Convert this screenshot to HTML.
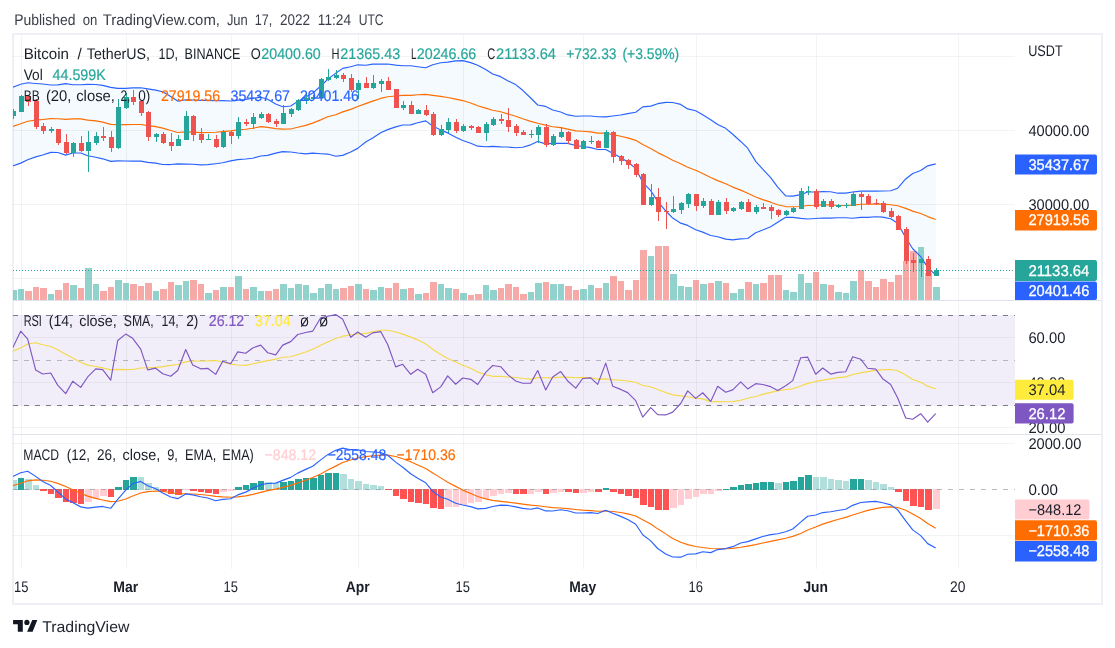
<!DOCTYPE html><html><head><meta charset="utf-8"><title>BTCUSDT</title><style>html,body{margin:0;padding:0;background:#fff}body{width:1115px;height:648px;overflow:hidden;font-family:"Liberation Sans",sans-serif}</style></head><body><svg width="1115" height="648" viewBox="0 0 1115 648" style="display:block;text-rendering:geometricPrecision">
<defs><filter id="nf" x="0" y="0" width="1115" height="648" filterUnits="userSpaceOnUse" color-interpolation-filters="sRGB"><feOffset dx="0" dy="0"/></filter><clipPath id="cp"><rect x="13" y="34" width="1002" height="534"/></clipPath><clipPath id="c1"><rect x="13" y="34" width="1002" height="266"/></clipPath><clipPath id="c2"><rect x="13" y="301" width="1002" height="133"/></clipPath><clipPath id="c3"><rect x="13" y="435" width="1002" height="133"/></clipPath></defs>
<rect width="1115" height="648" fill="#fff"/>
<rect x="13" y="34" width="1089" height="570" fill="#fff" stroke="#eef0f5" stroke-width="2" shape-rendering="crispEdges"/>
<path d="M21.5 35V569 M126.5 35V569 M231.5 35V569 M358.5 35V569 M463.5 35V569 M583.5 35V569 M696.5 35V569 M816.5 35V569 M958.5 35V569" stroke="#2a2e39" stroke-opacity="0.06" stroke-width="1" fill="none" shape-rendering="crispEdges"/>
<path d="M13 56.5H1015 M13 130.5H1015 M13 204.5H1015 M13 278.5H1015 M13 337.5H1015 M13 382.5H1015 M13 427.5H1015 M13 443.5H1015 M13 535.5H1015" stroke="#2a2e39" stroke-opacity="0.06" stroke-width="1" fill="none" shape-rendering="crispEdges"/>
<path d="M13 300.5H1101 M13 434.5H1101" stroke="#e0e3eb" stroke-width="1" shape-rendering="crispEdges"/>
<g clip-path="url(#c1)">
<path d="M12.7 87.16 L20.7 84.26 L27.7 82.73 L35.7 83.45 L42.7 84.05 L50.7 84.97 L57.7 84.92 L65.7 83.61 L72.7 84.76 L80.7 84.70 L87.7 84.40 L95.7 84.55 L102.7 85.36 L110.7 87.36 L117.7 88.44 L125.7 88.37 L132.7 87.86 L140.7 87.79 L147.7 88.94 L155.7 90.08 L162.7 91.75 L170.7 96.58 L177.7 101.08 L185.7 99.80 L192.7 100.00 L200.7 100.38 L207.7 100.37 L215.7 100.70 L222.7 100.56 L230.7 100.95 L237.7 100.15 L245.7 99.52 L252.7 98.28 L260.7 97.28 L267.7 99.29 L275.7 104.02 L282.7 106.71 L290.7 106.02 L297.7 101.38 L305.7 96.88 L312.7 93.06 L320.7 85.98 L327.7 79.41 L335.7 73.16 L342.7 68.39 L350.7 66.74 L357.7 64.81 L365.7 65.30 L372.7 64.17 L380.7 64.06 L387.7 63.97 L395.7 65.08 L402.7 65.70 L410.7 65.73 L417.7 66.72 L425.7 67.78 L432.7 64.70 L440.7 62.74 L447.7 62.08 L455.7 60.89 L462.7 60.64 L470.7 62.65 L477.7 65.26 L485.7 69.56 L492.7 74.03 L500.7 76.67 L507.7 80.80 L515.7 84.59 L522.7 90.29 L530.7 97.97 L537.7 104.98 L545.7 106.42 L552.7 110.03 L560.7 112.00 L567.7 114.93 L575.7 116.24 L582.7 115.96 L590.7 115.99 L597.7 116.71 L605.7 116.84 L612.7 116.00 L620.7 115.05 L627.7 113.61 L635.7 112.26 L642.7 106.83 L650.7 106.15 L657.7 103.67 L665.7 102.36 L672.7 102.54 L680.7 104.42 L687.7 108.92 L695.7 110.76 L702.7 114.80 L710.7 119.66 L717.7 124.44 L725.7 128.32 L732.7 134.29 L740.7 141.46 L747.7 148.18 L755.7 161.34 L762.7 169.22 L770.7 177.66 L777.7 187.21 L785.7 195.84 L792.7 196.14 L800.7 194.67 L807.7 192.01 L815.7 191.99 L822.7 191.56 L830.7 191.71 L837.7 193.19 L845.7 193.17 L852.7 191.97 L860.7 191.08 L867.7 191.15 L875.7 191.08 L882.7 190.98 L890.7 190.77 L897.7 188.17 L905.7 178.97 L912.7 173.46 L920.7 170.51 L927.7 165.84 L935.7 163.83 L935.7 275.20 L927.7 267.33 L920.7 256.57 L912.7 248.72 L905.7 237.73 L897.7 223.23 L890.7 218.75 L882.7 217.15 L875.7 216.79 L867.7 217.39 L860.7 217.38 L852.7 218.28 L845.7 217.76 L837.7 217.78 L830.7 218.17 L822.7 218.03 L815.7 218.47 L807.7 219.02 L800.7 218.36 L792.7 217.42 L785.7 217.27 L777.7 222.19 L770.7 226.67 L762.7 230.07 L755.7 232.74 L747.7 238.48 L740.7 238.81 L732.7 239.89 L725.7 239.17 L717.7 236.80 L710.7 235.46 L702.7 232.14 L695.7 229.68 L687.7 225.42 L680.7 223.17 L672.7 218.11 L665.7 210.77 L657.7 201.56 L650.7 190.65 L642.7 182.31 L635.7 168.42 L627.7 162.06 L620.7 157.51 L612.7 153.32 L605.7 149.52 L597.7 149.47 L590.7 147.66 L582.7 146.54 L575.7 145.47 L567.7 143.43 L560.7 143.28 L552.7 143.39 L545.7 143.88 L537.7 141.57 L530.7 144.83 L522.7 147.22 L515.7 147.77 L507.7 147.04 L500.7 146.87 L492.7 146.44 L485.7 146.77 L477.7 146.16 L470.7 143.26 L462.7 140.49 L455.7 137.31 L447.7 132.88 L440.7 130.11 L432.7 126.07 L425.7 120.89 L417.7 122.81 L410.7 124.91 L402.7 124.97 L395.7 126.85 L387.7 129.62 L380.7 132.78 L372.7 138.08 L365.7 141.94 L357.7 148.37 L350.7 151.98 L342.7 155.36 L335.7 156.25 L327.7 154.07 L320.7 153.71 L312.7 153.18 L305.7 153.87 L297.7 153.01 L290.7 151.96 L282.7 151.59 L275.7 153.14 L267.7 155.34 L260.7 155.95 L252.7 158.28 L245.7 159.00 L237.7 159.62 L230.7 160.89 L222.7 162.78 L215.7 163.71 L207.7 164.61 L200.7 164.92 L192.7 164.29 L185.7 164.08 L177.7 163.86 L170.7 164.55 L162.7 164.52 L155.7 163.14 L147.7 162.32 L140.7 161.19 L132.7 161.18 L125.7 160.97 L117.7 160.94 L110.7 161.37 L102.7 158.82 L95.7 157.21 L87.7 155.76 L80.7 153.05 L72.7 152.95 L65.7 155.08 L57.7 152.52 L50.7 152.41 L42.7 154.97 L35.7 156.90 L27.7 159.69 L20.7 163.14 L12.7 165.97Z" fill="#2196f3" fill-opacity="0.05" stroke="none"/>
<path d="M10 290H17V300H10Z M18 289H24V300H18Z M48 294H54V300H48Z M70 285H77V300H70Z M85 268H92V300H85Z M93 284H99V300H93Z M115 280H122V300H115Z M123 283H129V300H123Z M153 291H159V300H153Z M175 285H182V300H175Z M183 281H189V300H183Z M205 293H212V300H205Z M220 287H227V300H220Z M235 276H242V300H235Z M250 287H257V300H250Z M258 291H264V300H258Z M280 284H287V300H280Z M288 288H294V300H288Z M295 284H302V300H295Z M303 285H309V300H303Z M310 293H317V300H310Z M318 288H324V300H318Z M325 284H332V300H325Z M333 289H339V300H333Z M355 284H362V300H355Z M370 290H377V300H370Z M378 287H384V300H378Z M400 289H407V300H400Z M415 294H422V300H415Z M438 284H444V300H438Z M445 288H452V300H445Z M460 293H467V300H460Z M483 285H489V300H483Z M490 290H497V300H490Z M528 292H534V300H528Z M535 283H542V300H535Z M550 284H557V300H550Z M558 284H564V300H558Z M580 289H587V300H580Z M588 285H594V300H588Z M603 283H609V300H603Z M648 256H654V300H648Z M670 274H677V300H670Z M678 286H684V300H678Z M685 287H692V300H685Z M700 284H707V300H700Z M715 281H722V300H715Z M730 293H737V300H730Z M738 289H744V300H738Z M753 284H759V300H753Z M783 290H789V300H783Z M790 292H797V300H790Z M798 274H804V300H798Z M805 283H812V300H805Z M820 284H827V300H820Z M835 292H842V300H835Z M843 293H849V300H843Z M850 281H857V300H850Z M918 247H924V300H918Z M933 287H940V300H933Z" fill="#26a69a" fill-opacity="0.5" shape-rendering="crispEdges"/>
<path d="M25 291H32V300H25Z M33 287H39V300H33Z M40 288H47V300H40Z M55 290H62V300H55Z M63 283H69V300H63Z M78 288H84V300H78Z M100 291H107V300H100Z M108 287H114V300H108Z M130 284H137V300H130Z M138 286H144V300H138Z M145 283H152V300H145Z M160 289H167V300H160Z M168 282H174V300H168Z M190 280H197V300H190Z M198 284H204V300H198Z M213 290H219V300H213Z M228 287H234V300H228Z M243 289H249V300H243Z M265 291H272V300H265Z M273 289H279V300H273Z M340 288H347V300H340Z M348 286H354V300H348Z M363 289H369V300H363Z M385 288H392V300H385Z M393 283H399V300H393Z M408 288H414V300H408Z M423 293H429V300H423Z M430 282H437V300H430Z M453 289H459V300H453Z M468 295H474V300H468Z M475 294H482V300H475Z M498 288H504V300H498Z M505 284H512V300H505Z M513 287H519V300H513Z M520 294H527V300H520Z M543 282H549V300H543Z M565 286H572V300H565Z M573 290H579V300H573Z M595 288H602V300H595Z M610 276H617V300H610Z M618 281H624V300H618Z M625 290H632V300H625Z M633 280H639V300H633Z M640 250H647V300H640Z M655 246H662V300H655Z M663 246H669V300H663Z M693 280H699V300H693Z M708 283H714V300H708Z M723 283H729V300H723Z M745 282H752V300H745Z M760 283H767V300H760Z M768 275H774V300H768Z M775 275H782V300H775Z M813 272H819V300H813Z M828 285H834V300H828Z M858 270H864V300H858Z M865 281H872V300H865Z M873 287H879V300H873Z M880 279H887V300H880Z M888 282H894V300H888Z M895 275H902V300H895Z M903 261H909V300H903Z M910 251H917V300H910Z M925 273H932V300H925Z" fill="#ef5350" fill-opacity="0.5" shape-rendering="crispEdges"/>
<path d="M12.7 126.56 L20.7 123.70 L27.7 121.21 L35.7 120.18 L42.7 119.51 L50.7 118.69 L57.7 118.72 L65.7 119.35 L72.7 118.85 L80.7 118.87 L87.7 120.08 L95.7 120.88 L102.7 122.09 L110.7 124.36 L117.7 124.69 L125.7 124.67 L132.7 124.52 L140.7 124.49 L147.7 125.63 L155.7 126.61 L162.7 128.14 L170.7 130.56 L177.7 132.47 L185.7 131.94 L192.7 132.15 L200.7 132.65 L207.7 132.49 L215.7 132.21 L222.7 131.67 L230.7 130.92 L237.7 129.89 L245.7 129.26 L252.7 128.28 L260.7 126.61 L267.7 127.32 L275.7 128.58 L282.7 129.15 L290.7 128.99 L297.7 127.20 L305.7 125.38 L312.7 123.12 L320.7 119.85 L327.7 116.74 L335.7 114.70 L342.7 111.87 L350.7 109.36 L357.7 106.59 L365.7 103.62 L372.7 101.12 L380.7 98.42 L387.7 96.80 L395.7 95.96 L402.7 95.34 L410.7 95.32 L417.7 94.77 L425.7 94.34 L432.7 95.39 L440.7 96.43 L447.7 97.48 L455.7 99.10 L462.7 100.57 L470.7 102.95 L477.7 105.71 L485.7 108.17 L492.7 110.23 L500.7 111.77 L507.7 113.92 L515.7 116.18 L522.7 118.76 L530.7 121.40 L537.7 123.28 L545.7 125.15 L552.7 126.71 L560.7 127.64 L567.7 129.18 L575.7 130.85 L582.7 131.25 L590.7 131.82 L597.7 133.09 L605.7 133.18 L612.7 134.66 L620.7 136.28 L627.7 137.84 L635.7 140.34 L642.7 144.57 L650.7 148.40 L657.7 152.61 L665.7 156.57 L672.7 160.33 L680.7 163.80 L687.7 167.17 L695.7 170.22 L702.7 173.47 L710.7 177.56 L717.7 180.62 L725.7 183.74 L732.7 187.09 L740.7 190.13 L747.7 193.33 L755.7 197.04 L762.7 199.64 L770.7 202.17 L777.7 204.70 L785.7 206.56 L792.7 206.78 L800.7 206.51 L807.7 205.52 L815.7 205.23 L822.7 204.80 L830.7 204.94 L837.7 205.48 L845.7 205.47 L852.7 205.12 L860.7 204.23 L867.7 204.27 L875.7 203.93 L882.7 204.07 L890.7 204.76 L897.7 205.70 L905.7 208.35 L912.7 211.09 L920.7 213.54 L927.7 216.59 L935.7 219.51" fill="none" stroke="#ff6d00" stroke-width="1.15" stroke-linejoin="round"/>
<path d="M12.7 87.16 L20.7 84.26 L27.7 82.73 L35.7 83.45 L42.7 84.05 L50.7 84.97 L57.7 84.92 L65.7 83.61 L72.7 84.76 L80.7 84.70 L87.7 84.40 L95.7 84.55 L102.7 85.36 L110.7 87.36 L117.7 88.44 L125.7 88.37 L132.7 87.86 L140.7 87.79 L147.7 88.94 L155.7 90.08 L162.7 91.75 L170.7 96.58 L177.7 101.08 L185.7 99.80 L192.7 100.00 L200.7 100.38 L207.7 100.37 L215.7 100.70 L222.7 100.56 L230.7 100.95 L237.7 100.15 L245.7 99.52 L252.7 98.28 L260.7 97.28 L267.7 99.29 L275.7 104.02 L282.7 106.71 L290.7 106.02 L297.7 101.38 L305.7 96.88 L312.7 93.06 L320.7 85.98 L327.7 79.41 L335.7 73.16 L342.7 68.39 L350.7 66.74 L357.7 64.81 L365.7 65.30 L372.7 64.17 L380.7 64.06 L387.7 63.97 L395.7 65.08 L402.7 65.70 L410.7 65.73 L417.7 66.72 L425.7 67.78 L432.7 64.70 L440.7 62.74 L447.7 62.08 L455.7 60.89 L462.7 60.64 L470.7 62.65 L477.7 65.26 L485.7 69.56 L492.7 74.03 L500.7 76.67 L507.7 80.80 L515.7 84.59 L522.7 90.29 L530.7 97.97 L537.7 104.98 L545.7 106.42 L552.7 110.03 L560.7 112.00 L567.7 114.93 L575.7 116.24 L582.7 115.96 L590.7 115.99 L597.7 116.71 L605.7 116.84 L612.7 116.00 L620.7 115.05 L627.7 113.61 L635.7 112.26 L642.7 106.83 L650.7 106.15 L657.7 103.67 L665.7 102.36 L672.7 102.54 L680.7 104.42 L687.7 108.92 L695.7 110.76 L702.7 114.80 L710.7 119.66 L717.7 124.44 L725.7 128.32 L732.7 134.29 L740.7 141.46 L747.7 148.18 L755.7 161.34 L762.7 169.22 L770.7 177.66 L777.7 187.21 L785.7 195.84 L792.7 196.14 L800.7 194.67 L807.7 192.01 L815.7 191.99 L822.7 191.56 L830.7 191.71 L837.7 193.19 L845.7 193.17 L852.7 191.97 L860.7 191.08 L867.7 191.15 L875.7 191.08 L882.7 190.98 L890.7 190.77 L897.7 188.17 L905.7 178.97 L912.7 173.46 L920.7 170.51 L927.7 165.84 L935.7 163.83" fill="none" stroke="#2962ff" stroke-width="1.15" stroke-linejoin="round"/>
<path d="M12.7 165.97 L20.7 163.14 L27.7 159.69 L35.7 156.90 L42.7 154.97 L50.7 152.41 L57.7 152.52 L65.7 155.08 L72.7 152.95 L80.7 153.05 L87.7 155.76 L95.7 157.21 L102.7 158.82 L110.7 161.37 L117.7 160.94 L125.7 160.97 L132.7 161.18 L140.7 161.19 L147.7 162.32 L155.7 163.14 L162.7 164.52 L170.7 164.55 L177.7 163.86 L185.7 164.08 L192.7 164.29 L200.7 164.92 L207.7 164.61 L215.7 163.71 L222.7 162.78 L230.7 160.89 L237.7 159.62 L245.7 159.00 L252.7 158.28 L260.7 155.95 L267.7 155.34 L275.7 153.14 L282.7 151.59 L290.7 151.96 L297.7 153.01 L305.7 153.87 L312.7 153.18 L320.7 153.71 L327.7 154.07 L335.7 156.25 L342.7 155.36 L350.7 151.98 L357.7 148.37 L365.7 141.94 L372.7 138.08 L380.7 132.78 L387.7 129.62 L395.7 126.85 L402.7 124.97 L410.7 124.91 L417.7 122.81 L425.7 120.89 L432.7 126.07 L440.7 130.11 L447.7 132.88 L455.7 137.31 L462.7 140.49 L470.7 143.26 L477.7 146.16 L485.7 146.77 L492.7 146.44 L500.7 146.87 L507.7 147.04 L515.7 147.77 L522.7 147.22 L530.7 144.83 L537.7 141.57 L545.7 143.88 L552.7 143.39 L560.7 143.28 L567.7 143.43 L575.7 145.47 L582.7 146.54 L590.7 147.66 L597.7 149.47 L605.7 149.52 L612.7 153.32 L620.7 157.51 L627.7 162.06 L635.7 168.42 L642.7 182.31 L650.7 190.65 L657.7 201.56 L665.7 210.77 L672.7 218.11 L680.7 223.17 L687.7 225.42 L695.7 229.68 L702.7 232.14 L710.7 235.46 L717.7 236.80 L725.7 239.17 L732.7 239.89 L740.7 238.81 L747.7 238.48 L755.7 232.74 L762.7 230.07 L770.7 226.67 L777.7 222.19 L785.7 217.27 L792.7 217.42 L800.7 218.36 L807.7 219.02 L815.7 218.47 L822.7 218.03 L830.7 218.17 L837.7 217.78 L845.7 217.76 L852.7 218.28 L860.7 217.38 L867.7 217.39 L875.7 216.79 L882.7 217.15 L890.7 218.75 L897.7 223.23 L905.7 237.73 L912.7 248.72 L920.7 256.57 L927.7 267.33 L935.7 275.20" fill="none" stroke="#2962ff" stroke-width="1.15" stroke-linejoin="round"/>
<path d="M13 109h1V119h-1Z M11 111h5V116h-5Z M21 95h1V112h-1Z M19 96h5V112h-5Z M51 127h1V133h-1Z M49 129h5V131h-5Z M73 142h1V157h-1Z M71 143h5V153h-5Z M88 131h1V172h-1Z M86 142h5V151h-5Z M96 132h1V145h-1Z M94 136h5V143h-5Z M118 99h1V149h-1Z M116 107h5V148h-5Z M126 93h1V109h-1Z M124 97h5V108h-5Z M156 133h1V142h-1Z M154 134h5V137h-5Z M178 135h1V146h-1Z M176 139h5V146h-5Z M186 111h1V140h-1Z M184 116h5V140h-5Z M208 134h1V140h-1Z M206 139h5V140h-5Z M223 130h1V148h-1Z M221 132h5V147h-5Z M238 117h1V139h-1Z M236 122h5V136h-5Z M253 113h1V129h-1Z M251 117h5V124h-5Z M261 112h1V119h-1Z M259 114h5V118h-5Z M283 105h1V124h-1Z M281 113h5V124h-5Z M291 108h1V117h-1Z M289 109h5V114h-5Z M298 99h1V111h-1Z M296 100h5V110h-5Z M306 92h1V104h-1Z M304 98h5V101h-5Z M313 95h1V100h-1Z M311 97h5V99h-5Z M321 78h1V98h-1Z M319 79h5V98h-5Z M328 69h1V81h-1Z M326 77h5V80h-5Z M336 70h1V79h-1Z M334 75h5V78h-5Z M358 80h1V99h-1Z M356 83h5V90h-5Z M373 75h1V89h-1Z M371 83h5V88h-5Z M381 79h1V92h-1Z M379 81h5V84h-5Z M403 101h1V110h-1Z M401 105h5V108h-5Z M418 109h1V114h-1Z M416 110h5V114h-5Z M441 125h1V136h-1Z M439 129h5V135h-5Z M448 118h1V133h-1Z M446 122h5V130h-5Z M463 124h1V132h-1Z M461 126h5V131h-5Z M486 122h1V141h-1Z M484 124h5V133h-5Z M493 117h1V126h-1Z M491 119h5V125h-5Z M531 130h1V138h-1Z M529 134h5V135h-5Z M538 125h1V143h-1Z M536 127h5V135h-5Z M553 134h1V146h-1Z M551 136h5V145h-5Z M561 127h1V138h-1Z M559 132h5V137h-5Z M583 140h1V149h-1Z M581 141h5V149h-5Z M591 136h1V144h-1Z M589 141h5V142h-5Z M606 130h1V148h-1Z M604 132h5V148h-5Z M651 184h1V206h-1Z M649 197h5V205h-5Z M673 196h1V213h-1Z M671 209h5V212h-5Z M681 202h1V214h-1Z M679 203h5V210h-5Z M688 193h1V208h-1Z M686 194h5V204h-5Z M703 198h1V208h-1Z M701 201h5V206h-5Z M718 200h1V215h-1Z M716 202h5V215h-5Z M733 207h1V212h-1Z M731 208h5V211h-5Z M741 201h1V210h-1Z M739 202h5V209h-5Z M756 205h1V214h-1Z M754 207h5V212h-5Z M786 210h1V216h-1Z M784 211h5V215h-5Z M793 207h1V213h-1Z M791 208h5V212h-5Z M801 188h1V209h-1Z M799 191h5V209h-5Z M808 186h1V195h-1Z M806 191h5V192h-5Z M823 199h1V207h-1Z M821 201h5V207h-5Z M838 204h1V208h-1Z M836 205h5V207h-5Z M846 203h1V208h-1Z M844 205h5V206h-5Z M853 191h1V206h-1Z M851 194h5V206h-5Z M921 257h1V277h-1Z M919 259h5V263h-5Z M936 268h1V276h-1Z M934 270h5V276h-5Z" fill="#26a69a" shape-rendering="crispEdges"/>
<path d="M28 96h1V106h-1Z M26 96h5V102h-5Z M36 99h1V129h-1Z M34 101h5V127h-5Z M43 123h1V134h-1Z M41 126h5V131h-5Z M58 129h1V145h-1Z M56 129h5V143h-5Z M66 134h1V154h-1Z M64 142h5V153h-5Z M81 136h1V152h-1Z M79 143h5V151h-5Z M103 127h1V141h-1Z M101 136h5V138h-5Z M111 131h1V152h-1Z M109 137h5V148h-5Z M133 90h1V105h-1Z M131 97h5V102h-5Z M141 100h1V116h-1Z M139 101h5V113h-5Z M148 111h1V141h-1Z M146 112h5V137h-5Z M163 132h1V144h-1Z M161 134h5V143h-5Z M171 133h1V151h-1Z M169 142h5V146h-5Z M193 115h1V141h-1Z M191 116h5V135h-5Z M201 128h1V143h-1Z M199 134h5V140h-5Z M216 135h1V148h-1Z M214 139h5V147h-5Z M231 131h1V144h-1Z M229 132h5V136h-5Z M246 119h1V126h-1Z M244 122h5V124h-5Z M268 113h1V123h-1Z M266 114h5V122h-5Z M276 119h1V127h-1Z M274 121h5V124h-5Z M343 73h1V82h-1Z M341 75h5V79h-5Z M351 74h1V92h-1Z M349 78h5V90h-5Z M366 77h1V88h-1Z M364 83h5V88h-5Z M388 77h1V90h-1Z M386 81h5V90h-5Z M396 89h1V108h-1Z M394 89h5V108h-5Z M411 101h1V114h-1Z M409 105h5V114h-5Z M426 105h1V116h-1Z M424 110h5V115h-5Z M433 112h1V136h-1Z M431 114h5V135h-5Z M456 119h1V133h-1Z M454 122h5V131h-5Z M471 125h1V130h-1Z M469 126h5V128h-5Z M478 126h1V133h-1Z M476 127h5V133h-5Z M501 114h1V124h-1Z M499 119h5V121h-5Z M508 108h1V132h-1Z M506 120h5V127h-5Z M516 124h1V136h-1Z M514 126h5V133h-5Z M523 130h1V135h-1Z M521 132h5V135h-5Z M546 124h1V147h-1Z M544 127h5V145h-5Z M568 131h1V144h-1Z M566 132h5V141h-5Z M576 139h1V149h-1Z M574 140h5V149h-5Z M598 140h1V148h-1Z M596 141h5V148h-5Z M613 131h1V163h-1Z M611 132h5V157h-5Z M621 155h1V165h-1Z M619 156h5V161h-5Z M628 159h1V169h-1Z M626 160h5V165h-5Z M636 163h1V177h-1Z M634 164h5V175h-5Z M643 173h1V205h-1Z M641 174h5V205h-5Z M658 188h1V221h-1Z M656 197h5V212h-5Z M666 202h1V229h-1Z M664 211h5V212h-5Z M696 194h1V211h-1Z M694 194h5V206h-5Z M711 199h1V215h-1Z M709 201h5V215h-5Z M726 198h1V214h-1Z M724 202h5V211h-5Z M748 199h1V212h-1Z M746 202h5V212h-5Z M763 203h1V209h-1Z M761 207h5V209h-5Z M771 205h1V219h-1Z M769 207h5V211h-5Z M778 209h1V217h-1Z M776 210h5V215h-5Z M816 189h1V209h-1Z M814 191h5V207h-5Z M831 199h1V209h-1Z M829 201h5V207h-5Z M861 192h1V210h-1Z M859 194h5V197h-5Z M868 194h1V205h-1Z M866 196h5V204h-5Z M876 199h1V205h-1Z M874 203h5V204h-5Z M883 201h1V213h-1Z M881 203h5V212h-5Z M891 208h1V218h-1Z M889 211h5V217h-5Z M898 215h1V230h-1Z M896 216h5V230h-5Z M906 227h1V264h-1Z M904 229h5V261h-5Z M913 253h1V272h-1Z M911 260h5V263h-5Z M928 256h1V276h-1Z M926 259h5V276h-5Z" fill="#ef5350" shape-rendering="crispEdges"/>
<path d="M13 270.5H1015" stroke="#26a69a" stroke-width="1" stroke-dasharray="1 2" shape-rendering="crispEdges"/>
</g>
<g clip-path="url(#c2)">
<rect x="13" y="315" width="1002" height="91" fill="#7e57c2" fill-opacity="0.1"/>
<path d="M13 315.5H1015 M13 405.5H1015" stroke="#787b86" stroke-width="1" stroke-dasharray="5 6" shape-rendering="crispEdges"/>
<path d="M13 360.5H1015" stroke="#787b86" stroke-opacity="0.5" stroke-width="1" stroke-dasharray="5 6" shape-rendering="crispEdges"/>
<path d="M12.7 351.35 L20.7 347.94 L27.7 344.01 L35.7 342.70 L42.7 344.72 L50.7 346.53 L57.7 349.74 L65.7 354.26 L72.7 357.98 L80.7 362.30 L87.7 365.14 L95.7 366.55 L102.7 367.91 L110.7 369.88 L117.7 369.36 L125.7 369.57 L132.7 369.51 L140.7 368.01 L147.7 367.71 L155.7 367.37 L162.7 366.56 L170.7 365.32 L177.7 364.55 L185.7 361.85 L192.7 360.99 L200.7 360.99 L207.7 360.90 L215.7 360.48 L222.7 361.96 L230.7 364.08 L237.7 365.05 L245.7 365.35 L252.7 363.78 L260.7 362.13 L267.7 360.63 L275.7 359.10 L282.7 357.29 L290.7 356.72 L297.7 354.54 L305.7 351.94 L312.7 349.29 L320.7 345.25 L327.7 342.03 L335.7 338.52 L342.7 336.18 L350.7 335.04 L357.7 333.90 L365.7 333.34 L372.7 331.92 L380.7 330.26 L387.7 330.22 L395.7 332.02 L402.7 334.15 L410.7 337.14 L417.7 339.86 L425.7 343.89 L432.7 349.35 L440.7 354.52 L447.7 358.56 L455.7 361.91 L462.7 365.20 L470.7 368.21 L477.7 371.90 L485.7 374.82 L492.7 376.31 L500.7 376.30 L507.7 377.03 L515.7 377.51 L522.7 378.52 L530.7 379.15 L537.7 377.57 L545.7 377.79 L552.7 377.88 L560.7 376.97 L567.7 377.18 L575.7 377.80 L582.7 377.37 L590.7 377.76 L597.7 379.12 L605.7 378.86 L612.7 379.69 L620.7 380.29 L627.7 380.96 L635.7 382.21 L642.7 385.53 L650.7 386.79 L657.7 389.48 L665.7 392.58 L672.7 394.81 L680.7 395.91 L687.7 396.80 L695.7 398.26 L702.7 398.86 L710.7 401.60 L717.7 401.60 L725.7 401.80 L732.7 401.61 L740.7 400.27 L747.7 398.26 L755.7 396.54 L762.7 394.38 L770.7 392.36 L777.7 390.82 L785.7 389.55 L792.7 388.82 L800.7 385.92 L807.7 383.38 L815.7 381.44 L822.7 380.13 L830.7 378.84 L837.7 377.59 L845.7 376.86 L852.7 374.56 L860.7 372.82 L867.7 371.66 L875.7 370.41 L882.7 369.57 L890.7 369.47 L897.7 370.71 L905.7 375.00 L912.7 379.44 L920.7 382.26 L927.7 386.13 L935.7 388.95" fill="none" stroke="#f5d949" stroke-width="1.15" stroke-linejoin="round"/>
<path d="M12.7 347.85 L20.7 331.24 L27.7 339.15 L35.7 370.07 L42.7 374.02 L50.7 373.01 L57.7 385.16 L65.7 393.60 L72.7 381.21 L80.7 387.42 L87.7 376.96 L95.7 368.87 L102.7 369.66 L110.7 380.18 L117.7 340.54 L125.7 334.10 L132.7 338.29 L140.7 349.19 L147.7 369.83 L155.7 368.18 L162.7 373.77 L170.7 376.22 L177.7 370.55 L185.7 349.55 L192.7 364.99 L200.7 368.85 L207.7 368.32 L215.7 374.36 L222.7 361.26 L230.7 363.74 L237.7 351.90 L245.7 353.30 L252.7 347.93 L260.7 345.10 L267.7 352.74 L275.7 354.84 L282.7 345.14 L290.7 341.65 L297.7 334.48 L305.7 332.46 L312.7 331.17 L320.7 317.74 L327.7 316.23 L335.7 314.58 L342.7 319.21 L350.7 337.33 L357.7 331.97 L365.7 337.26 L372.7 332.87 L380.7 331.59 L387.7 344.51 L395.7 366.91 L402.7 364.31 L410.7 374.29 L417.7 369.19 L425.7 374.23 L432.7 392.72 L440.7 386.85 L447.7 375.84 L455.7 384.24 L462.7 378.04 L470.7 379.33 L477.7 384.55 L485.7 372.41 L492.7 365.47 L500.7 366.70 L507.7 374.58 L515.7 381.03 L522.7 383.23 L530.7 383.11 L537.7 370.58 L545.7 389.97 L552.7 377.04 L560.7 371.57 L567.7 380.95 L575.7 388.07 L582.7 378.52 L590.7 377.87 L597.7 384.42 L605.7 363.12 L612.7 386.16 L620.7 389.40 L627.7 392.63 L635.7 400.62 L642.7 417.09 L650.7 407.66 L657.7 414.67 L665.7 414.93 L672.7 412.15 L680.7 403.51 L687.7 390.90 L695.7 398.42 L702.7 392.75 L710.7 401.43 L717.7 386.28 L725.7 392.19 L732.7 389.89 L740.7 381.88 L747.7 388.92 L755.7 383.65 L762.7 384.45 L770.7 386.66 L777.7 390.51 L785.7 385.80 L792.7 380.66 L800.7 357.78 L807.7 357.18 L815.7 374.27 L822.7 368.01 L830.7 374.07 L837.7 372.37 L845.7 371.76 L852.7 356.69 L860.7 359.21 L867.7 368.26 L875.7 369.18 L882.7 378.69 L890.7 384.42 L897.7 397.99 L905.7 417.96 L912.7 419.28 L920.7 413.74 L927.7 422.21 L935.7 413.52" fill="none" stroke="#7e57c2" stroke-width="1.15" stroke-linejoin="round"/>
</g>
<g clip-path="url(#c3)">
<path d="M18 478H24V490H18Z M115 487H122V490H115Z M123 480H129V490H123Z M130 477H137V490H130Z M235 487H242V490H235Z M243 485H249V490H243Z M250 483H257V490H250Z M258 481H264V490H258Z M280 482H287V490H280Z M288 481H294V490H288Z M295 479H302V490H295Z M303 478H309V490H303Z M310 478H317V490H310Z M318 475H324V490H318Z M325 473H332V490H325Z M333 473H339V490H333Z M603 488H609V490H603Z M723 489H729V490H723Z M730 487H737V490H730Z M738 485H744V490H738Z M745 484H752V490H745Z M753 483H759V490H753Z M760 482H767V490H760Z M768 482H774V490H768Z M783 482H789V490H783Z M790 481H797V490H790Z M798 477H804V490H798Z M805 475H812V490H805Z M850 479H857V490H850Z M858 479H864V490H858Z" fill="#26a69a" shape-rendering="crispEdges"/>
<path d="M10 480H17V490H10Z M25 479H32V490H25Z M33 485H39V490H33Z M138 477H144V490H138Z M145 483H152V490H145Z M153 487H159V490H153Z M265 482H272V490H265Z M273 483H279V490H273Z M340 474H347V490H340Z M348 479H354V490H348Z M355 481H362V490H355Z M363 484H369V490H363Z M370 485H377V490H370Z M378 486H384V490H378Z M775 483H782V490H775Z M813 477H819V490H813Z M820 477H827V490H820Z M828 479H834V490H828Z M835 480H842V490H835Z M843 481H849V490H843Z M865 480H872V490H865Z M873 482H879V490H873Z M880 484H887V490H880Z M888 487H894V490H888Z" fill="#b2dfdb" shape-rendering="crispEdges"/>
<path d="M85 489H92V502H85Z M93 489H99V499H93Z M100 489H107V496H100Z M183 489H189V490H183Z M220 489H227V492H220Z M228 489H234V491H228Z M445 489H452V507H445Z M453 489H459V507H453Z M460 489H467V505H460Z M468 489H474V503H468Z M475 489H482V502H475Z M483 489H489V499H483Z M490 489H497V496H490Z M498 489H504V494H498Z M505 489H512V493H505Z M528 489H534V494H528Z M535 489H542V492H535Z M550 489H557V493H550Z M558 489H564V492H558Z M580 489H587V493H580Z M588 489H594V492H588Z M670 489H677V508H670Z M678 489H684V505H678Z M685 489H692V499H685Z M693 489H699V497H693Z M700 489H707V494H700Z M708 489H714V494H708Z M715 489H722V491H715Z M933 489H940V509H933Z" fill="#ffcdd2" shape-rendering="crispEdges"/>
<path d="M40 489H47V491H40Z M48 489H54V494H48Z M55 489H62V498H55Z M63 489H69V502H63Z M70 489H77V503H70Z M78 489H84V504H78Z M108 489H114V497H108Z M160 489H167V491H160Z M168 489H174V494H168Z M175 489H182V495H175Z M190 489H197V491H190Z M198 489H204V492H198Z M205 489H212V493H205Z M213 489H219V494H213Z M385 489H392V490H385Z M393 489H399V496H393Z M400 489H407V499H400Z M408 489H414V502H408Z M415 489H422V503H415Z M423 489H429V504H423Z M430 489H437V508H430Z M438 489H444V509H438Z M513 489H519V494H513Z M520 489H527V494H520Z M543 489H549V494H543Z M565 489H572V492H565Z M573 489H579V493H573Z M595 489H602V492H595Z M610 489H617V492H610Z M618 489H624V494H618Z M625 489H632V496H625Z M633 489H639V498H633Z M640 489H647V505H640Z M648 489H654V507H648Z M655 489H662V510H655Z M663 489H669V510H663Z M895 489H902V492H895Z M903 489H909V501H903Z M910 489H917V506H910Z M918 489H924V507H918Z M925 489H932V510H925Z" fill="#ff5252" shape-rendering="crispEdges"/>
<path d="M13 489.5H1015" stroke="#787b86" stroke-opacity="0.5" stroke-width="1" stroke-dasharray="5 6" shape-rendering="crispEdges"/>
<path d="M12.7 485.82 L20.7 483.22 L27.7 480.82 L35.7 479.93 L42.7 480.25 L50.7 481.30 L57.7 483.39 L65.7 486.53 L72.7 489.74 L80.7 493.17 L87.7 496.15 L95.7 498.36 L102.7 499.97 L110.7 501.63 L117.7 501.20 L125.7 498.97 L132.7 495.92 L140.7 493.02 L147.7 491.57 L155.7 491.02 L162.7 491.40 L170.7 492.51 L177.7 493.74 L185.7 493.77 L192.7 493.98 L200.7 494.53 L207.7 495.22 L215.7 496.33 L222.7 496.93 L230.7 497.30 L237.7 496.82 L245.7 495.88 L252.7 494.38 L260.7 492.43 L267.7 490.64 L275.7 489.13 L282.7 487.38 L290.7 485.38 L297.7 482.93 L305.7 480.22 L312.7 477.44 L320.7 473.93 L327.7 470.07 L335.7 466.13 L342.7 462.53 L350.7 459.96 L357.7 457.96 L365.7 456.66 L372.7 455.72 L380.7 455.07 L387.7 455.11 L395.7 456.52 L402.7 458.68 L410.7 461.71 L417.7 465.00 L425.7 468.55 L432.7 473.10 L440.7 477.87 L447.7 482.16 L455.7 486.38 L462.7 490.11 L470.7 493.41 L477.7 496.51 L485.7 498.90 L492.7 500.43 L500.7 501.36 L507.7 502.18 L515.7 503.12 L522.7 504.17 L530.7 505.18 L537.7 505.73 L545.7 506.77 L552.7 507.61 L560.7 508.04 L567.7 508.59 L575.7 509.48 L582.7 510.18 L590.7 510.67 L597.7 511.24 L605.7 511.05 L612.7 511.50 L620.7 512.48 L627.7 513.88 L635.7 515.95 L642.7 519.72 L650.7 523.94 L657.7 528.86 L665.7 533.88 L672.7 538.51 L680.7 542.24 L687.7 544.64 L695.7 546.48 L702.7 547.54 L710.7 548.55 L717.7 548.75 L725.7 548.72 L732.7 548.31 L740.7 547.23 L747.7 546.10 L755.7 544.67 L762.7 543.03 L770.7 541.36 L777.7 539.83 L785.7 538.22 L792.7 536.37 L800.7 533.52 L807.7 530.06 L815.7 527.05 L822.7 524.15 L830.7 521.67 L837.7 519.45 L845.7 517.41 L852.7 515.00 L860.7 512.51 L867.7 510.39 L875.7 508.59 L882.7 507.43 L890.7 506.92 L897.7 507.49 L905.7 510.18 L912.7 514.12 L920.7 518.42 L927.7 523.46 L935.7 528.36" fill="none" stroke="#ff6d00" stroke-width="1.15" stroke-linejoin="round"/>
<path d="M12.7 476.63 L20.7 472.81 L27.7 471.23 L35.7 476.38 L42.7 481.55 L50.7 485.49 L57.7 491.73 L65.7 499.12 L72.7 502.55 L80.7 506.88 L87.7 508.09 L95.7 507.18 L102.7 506.44 L110.7 508.28 L117.7 499.44 L125.7 490.08 L132.7 483.70 L140.7 481.41 L147.7 485.79 L155.7 488.79 L162.7 492.95 L170.7 496.95 L177.7 498.63 L185.7 493.93 L192.7 494.82 L200.7 496.73 L207.7 497.99 L215.7 500.77 L222.7 499.33 L230.7 498.80 L237.7 494.89 L245.7 492.13 L252.7 488.38 L260.7 484.63 L267.7 483.48 L275.7 483.11 L282.7 480.38 L290.7 477.38 L297.7 473.13 L305.7 469.38 L312.7 466.30 L320.7 459.89 L327.7 454.65 L335.7 450.36 L342.7 448.12 L350.7 449.69 L357.7 449.94 L365.7 451.45 L372.7 451.97 L380.7 452.47 L387.7 455.28 L395.7 462.14 L402.7 467.32 L410.7 473.82 L417.7 478.16 L425.7 482.77 L432.7 491.30 L440.7 496.95 L447.7 499.31 L455.7 503.25 L462.7 505.06 L470.7 506.61 L477.7 508.92 L485.7 508.42 L492.7 506.54 L500.7 505.12 L507.7 505.43 L515.7 506.91 L522.7 508.35 L530.7 509.25 L537.7 507.92 L545.7 510.92 L552.7 510.95 L560.7 509.79 L567.7 510.76 L575.7 513.04 L582.7 513.01 L590.7 512.61 L597.7 513.49 L605.7 510.29 L612.7 513.32 L620.7 516.40 L627.7 519.50 L635.7 524.22 L642.7 534.80 L650.7 540.84 L657.7 548.50 L665.7 553.96 L672.7 557.02 L680.7 557.17 L687.7 554.23 L695.7 553.85 L702.7 551.77 L710.7 552.60 L717.7 549.57 L725.7 548.57 L732.7 546.66 L740.7 542.94 L747.7 541.58 L755.7 538.92 L762.7 536.49 L770.7 534.66 L777.7 533.75 L785.7 531.78 L792.7 528.95 L800.7 522.11 L807.7 516.24 L815.7 515.01 L822.7 512.56 L830.7 511.75 L837.7 510.55 L845.7 509.27 L852.7 505.35 L860.7 502.55 L867.7 501.90 L875.7 501.42 L882.7 502.77 L890.7 504.90 L897.7 509.79 L905.7 520.90 L912.7 529.89 L920.7 535.64 L927.7 543.63 L935.7 547.92" fill="none" stroke="#2962ff" stroke-width="1.15" stroke-linejoin="round"/>
</g>
<g filter="url(#nf)">
<text x="14.2" y="25" font-family="Liberation Sans, sans-serif" font-size="15.4" fill="#3a3e4a" textLength="61.2" lengthAdjust="spacingAndGlyphs">Published</text>
<text x="82.8" y="25" font-family="Liberation Sans, sans-serif" font-size="15.4" fill="#3a3e4a" textLength="14.6" lengthAdjust="spacingAndGlyphs">on</text>
<text x="102.7" y="25" font-family="Liberation Sans, sans-serif" font-size="15.4" fill="#3a3e4a" textLength="117.2" lengthAdjust="spacingAndGlyphs">TradingView.com,</text>
<text x="226.9" y="25" font-family="Liberation Sans, sans-serif" font-size="15.4" fill="#3a3e4a" textLength="20.9" lengthAdjust="spacingAndGlyphs">Jun</text>
<text x="254.8" y="25" font-family="Liberation Sans, sans-serif" font-size="15.4" fill="#3a3e4a" textLength="17.5" lengthAdjust="spacingAndGlyphs">17,</text>
<text x="280" y="25" font-family="Liberation Sans, sans-serif" font-size="15.4" fill="#3a3e4a" textLength="30.1" lengthAdjust="spacingAndGlyphs">2022</text>
<text x="317.8" y="25" font-family="Liberation Sans, sans-serif" font-size="15.4" fill="#3a3e4a" textLength="33.2" lengthAdjust="spacingAndGlyphs">11:24</text>
<text x="358.7" y="25" font-family="Liberation Sans, sans-serif" font-size="15.4" fill="#3a3e4a" textLength="24.9" lengthAdjust="spacingAndGlyphs">UTC</text>
<text x="23.7" y="58.6" font-family="Liberation Sans, sans-serif" font-size="15.4" fill="#1a1e29" textLength="45.3" lengthAdjust="spacingAndGlyphs">Bitcoin</text>
<text x="86.8" y="58.6" font-family="Liberation Sans, sans-serif" font-size="15.4" fill="#1a1e29" textLength="63.2" lengthAdjust="spacingAndGlyphs">TetherUS,</text>
<text x="158.4" y="58.6" font-family="Liberation Sans, sans-serif" font-size="15.4" fill="#1a1e29" textLength="19.6" lengthAdjust="spacingAndGlyphs">1D,</text>
<text x="184.6" y="58.6" font-family="Liberation Sans, sans-serif" font-size="15.4" fill="#1a1e29" textLength="55.9" lengthAdjust="spacingAndGlyphs">BINANCE</text>
<text x="77.5" y="58.6" font-family="Liberation Sans, sans-serif" font-size="15.4" fill="#1a1e29">/</text>
<text x="250.8" y="58.6" font-family="Liberation Sans, sans-serif" font-size="15.4" fill="#1a1e29" textLength="10" lengthAdjust="spacingAndGlyphs">O</text>
<text x="261.3" y="58.6" font-family="Liberation Sans, sans-serif" font-size="15.4" fill="#26a69a" stroke="#26a69a" stroke-width="0.18" textLength="59.5" lengthAdjust="spacingAndGlyphs">20400.60</text>
<text x="331.5" y="58.6" font-family="Liberation Sans, sans-serif" font-size="15.4" fill="#1a1e29" textLength="8" lengthAdjust="spacingAndGlyphs">H</text>
<text x="340.2" y="58.6" font-family="Liberation Sans, sans-serif" font-size="15.4" fill="#26a69a" stroke="#26a69a" stroke-width="0.18" textLength="60" lengthAdjust="spacingAndGlyphs">21365.43</text>
<text x="411.1" y="58.6" font-family="Liberation Sans, sans-serif" font-size="15.4" fill="#1a1e29" textLength="5.5" lengthAdjust="spacingAndGlyphs">L</text>
<text x="416.8" y="58.6" font-family="Liberation Sans, sans-serif" font-size="15.4" fill="#26a69a" stroke="#26a69a" stroke-width="0.18" textLength="59.5" lengthAdjust="spacingAndGlyphs">20246.66</text>
<text x="487.2" y="58.6" font-family="Liberation Sans, sans-serif" font-size="15.4" fill="#1a1e29" textLength="8" lengthAdjust="spacingAndGlyphs">C</text>
<text x="496" y="58.6" font-family="Liberation Sans, sans-serif" font-size="15.4" fill="#26a69a" stroke="#26a69a" stroke-width="0.18" textLength="60" lengthAdjust="spacingAndGlyphs">21133.64</text>
<text x="566.2" y="58.6" font-family="Liberation Sans, sans-serif" font-size="15.4" fill="#26a69a" stroke="#26a69a" stroke-width="0.18" textLength="50.3" lengthAdjust="spacingAndGlyphs">+732.33</text>
<text x="622.5" y="58.6" font-family="Liberation Sans, sans-serif" font-size="15.4" fill="#26a69a" stroke="#26a69a" stroke-width="0.18" textLength="56.7" lengthAdjust="spacingAndGlyphs">(+3.59%)</text>
<text x="23.7" y="79.6" font-family="Liberation Sans, sans-serif" font-size="15.4" fill="#1a1e29" textLength="19" lengthAdjust="spacingAndGlyphs">Vol</text>
<text x="52.5" y="79.6" font-family="Liberation Sans, sans-serif" font-size="15.4" fill="#26a69a" stroke="#26a69a" stroke-width="0.18" textLength="53.3" lengthAdjust="spacingAndGlyphs">44.599K</text>
<text x="23.7" y="100.6" font-family="Liberation Sans, sans-serif" font-size="15.4" fill="#1a1e29" textLength="16.0" lengthAdjust="spacingAndGlyphs">BB</text>
<text x="45.9" y="100.6" font-family="Liberation Sans, sans-serif" font-size="15.4" fill="#1a1e29" textLength="25.6" lengthAdjust="spacingAndGlyphs">(20,</text>
<text x="76.2" y="100.6" font-family="Liberation Sans, sans-serif" font-size="15.4" fill="#1a1e29" textLength="38.8" lengthAdjust="spacingAndGlyphs">close,</text>
<text x="120.4" y="100.6" font-family="Liberation Sans, sans-serif" font-size="15.4" fill="#1a1e29" textLength="10.0" lengthAdjust="spacingAndGlyphs">2,</text>
<text x="138.3" y="100.6" font-family="Liberation Sans, sans-serif" font-size="15.4" fill="#1a1e29" textLength="12.1" lengthAdjust="spacingAndGlyphs">0)</text>
<text x="160.9" y="100.6" font-family="Liberation Sans, sans-serif" font-size="15.4" fill="#ff6d00" stroke="#ff6d00" stroke-width="0.18" textLength="59.2" lengthAdjust="spacingAndGlyphs">27919.56</text>
<text x="230.5" y="100.6" font-family="Liberation Sans, sans-serif" font-size="15.4" fill="#2962ff" stroke="#2962ff" stroke-width="0.18" textLength="59.5" lengthAdjust="spacingAndGlyphs">35437.67</text>
<text x="300" y="100.6" font-family="Liberation Sans, sans-serif" font-size="15.4" fill="#2962ff" stroke="#2962ff" stroke-width="0.18" textLength="59" lengthAdjust="spacingAndGlyphs">20401.46</text>
<text x="23.7" y="325.9" font-family="Liberation Sans, sans-serif" font-size="15.4" fill="#1a1e29" textLength="18.2" lengthAdjust="spacingAndGlyphs">RSI</text>
<text x="48.8" y="325.9" font-family="Liberation Sans, sans-serif" font-size="15.4" fill="#1a1e29" textLength="24.2" lengthAdjust="spacingAndGlyphs">(14,</text>
<text x="79.2" y="325.9" font-family="Liberation Sans, sans-serif" font-size="15.4" fill="#1a1e29" textLength="37.6" lengthAdjust="spacingAndGlyphs">close,</text>
<text x="123.8" y="325.9" font-family="Liberation Sans, sans-serif" font-size="15.4" fill="#1a1e29" textLength="29.8" lengthAdjust="spacingAndGlyphs">SMA,</text>
<text x="161.6" y="325.9" font-family="Liberation Sans, sans-serif" font-size="15.4" fill="#1a1e29" textLength="17.2" lengthAdjust="spacingAndGlyphs">14,</text>
<text x="186.3" y="325.9" font-family="Liberation Sans, sans-serif" font-size="15.4" fill="#1a1e29" textLength="12.1" lengthAdjust="spacingAndGlyphs">2)</text>
<text x="208.8" y="325.9" font-family="Liberation Sans, sans-serif" font-size="15.4" fill="#7e57c2" stroke="#7e57c2" stroke-width="0.18" textLength="35.4" lengthAdjust="spacingAndGlyphs">26.12</text>
<text x="254.9" y="325.9" font-family="Liberation Sans, sans-serif" font-size="15.4" fill="#ffeb3b" stroke="#ffeb3b" stroke-width="0.18" textLength="35.7" lengthAdjust="spacingAndGlyphs">37.04</text>
<g fill="none" stroke="#131722" stroke-width="1.1"><ellipse cx="304.5" cy="321.9" rx="3.1" ry="3.9"/><path d="M301.3 326.6L307.7 317.2"/><ellipse cx="323.7" cy="321.9" rx="3.1" ry="3.9"/><path d="M320.5 326.6L326.9 317.2"/></g>
<text x="23.3" y="460.1" font-family="Liberation Sans, sans-serif" font-size="15.4" fill="#1a1e29" textLength="35.8" lengthAdjust="spacingAndGlyphs">MACD</text>
<text x="66.8" y="460.1" font-family="Liberation Sans, sans-serif" font-size="15.4" fill="#1a1e29" textLength="23.3" lengthAdjust="spacingAndGlyphs">(12,</text>
<text x="97.1" y="460.1" font-family="Liberation Sans, sans-serif" font-size="15.4" fill="#1a1e29" textLength="18.8" lengthAdjust="spacingAndGlyphs">26,</text>
<text x="122.6" y="460.1" font-family="Liberation Sans, sans-serif" font-size="15.4" fill="#1a1e29" textLength="37.7" lengthAdjust="spacingAndGlyphs">close,</text>
<text x="167.2" y="460.1" font-family="Liberation Sans, sans-serif" font-size="15.4" fill="#1a1e29" textLength="10.7" lengthAdjust="spacingAndGlyphs">9,</text>
<text x="185.1" y="460.1" font-family="Liberation Sans, sans-serif" font-size="15.4" fill="#1a1e29" textLength="31.2" lengthAdjust="spacingAndGlyphs">EMA,</text>
<text x="222.3" y="460.1" font-family="Liberation Sans, sans-serif" font-size="15.4" fill="#1a1e29" textLength="31.5" lengthAdjust="spacingAndGlyphs">EMA)</text>
<text x="264.5" y="460.1" font-family="Liberation Sans, sans-serif" font-size="15.4" fill="#ffcdd2" stroke="#ffcdd2" stroke-width="0.18" textLength="51.6" lengthAdjust="spacingAndGlyphs">−848.12</text>
<text x="327.7" y="460.1" font-family="Liberation Sans, sans-serif" font-size="15.4" fill="#2962ff" stroke="#2962ff" stroke-width="0.18" textLength="58.5" lengthAdjust="spacingAndGlyphs">−2558.48</text>
<text x="396.6" y="460.1" font-family="Liberation Sans, sans-serif" font-size="15.4" fill="#ff6d00" stroke="#ff6d00" stroke-width="0.18" textLength="58.9" lengthAdjust="spacingAndGlyphs">−1710.36</text>
<text x="1028.2" y="55.5" font-family="Liberation Sans, sans-serif" font-size="15.4" fill="#1a1e29" textLength="34.5" lengthAdjust="spacingAndGlyphs">USDT</text>
<text x="1028.4" y="135.8" font-family="Liberation Sans, sans-serif" font-size="15.4" fill="#1a1e29" textLength="61" lengthAdjust="spacingAndGlyphs">40000.00</text>
<text x="1028.4" y="209.8" font-family="Liberation Sans, sans-serif" font-size="15.4" fill="#1a1e29" textLength="61" lengthAdjust="spacingAndGlyphs">30000.00</text>
<text x="1028.4" y="342.6" font-family="Liberation Sans, sans-serif" font-size="15.4" fill="#1a1e29" textLength="37" lengthAdjust="spacingAndGlyphs">60.00</text>
<text x="1028.4" y="387.7" font-family="Liberation Sans, sans-serif" font-size="15.4" fill="#1a1e29" textLength="37" lengthAdjust="spacingAndGlyphs">40.00</text>
<text x="1028.4" y="433" font-family="Liberation Sans, sans-serif" font-size="15.4" fill="#1a1e29" textLength="37" lengthAdjust="spacingAndGlyphs">20.00</text>
<text x="1028.4" y="448.9" font-family="Liberation Sans, sans-serif" font-size="15.4" fill="#1a1e29" textLength="53" lengthAdjust="spacingAndGlyphs">2000.00</text>
<text x="1028.4" y="494.6" font-family="Liberation Sans, sans-serif" font-size="15.4" fill="#1a1e29" textLength="29.5" lengthAdjust="spacingAndGlyphs">0.00</text>
<path d="M1015 154.5H1095a2 2 0 0 1 2 2V172.5a2 2 0 0 1 -2 2H1015Z" fill="#2962ff"/>
<text x="1028.4" y="169.7" font-family="Liberation Sans, sans-serif" font-size="15.4" fill="#fff" stroke="#fff" stroke-width="0.3" textLength="61" lengthAdjust="spacingAndGlyphs">35437.67</text>
<path d="M1015 210H1095a2 2 0 0 1 2 2V228.5a2 2 0 0 1 -2 2H1015Z" fill="#ff6d00"/>
<text x="1028.4" y="225.45" font-family="Liberation Sans, sans-serif" font-size="15.4" fill="#fff" stroke="#fff" stroke-width="0.3" textLength="61" lengthAdjust="spacingAndGlyphs">27919.56</text>
<path d="M1015 260H1095a2 2 0 0 1 2 2V279a2 2 0 0 1 -2 2H1015Z" fill="#26a69a"/>
<text x="1028.4" y="275.7" font-family="Liberation Sans, sans-serif" font-size="15.4" fill="#fff" stroke="#fff" stroke-width="0.3" textLength="61" lengthAdjust="spacingAndGlyphs">21133.64</text>
<path d="M1015 281.5H1095a2 2 0 0 1 2 2V298a2 2 0 0 1 -2 2H1015Z" fill="#2962ff"/>
<text x="1028.4" y="295.95" font-family="Liberation Sans, sans-serif" font-size="15.4" fill="#fff" stroke="#fff" stroke-width="0.3" textLength="61" lengthAdjust="spacingAndGlyphs">20401.46</text>
<path d="M1015 379.7H1071.6a2 2 0 0 1 2 2V397.7a2 2 0 0 1 -2 2H1015Z" fill="#ffeb3b"/>
<text x="1028.4" y="394.9" font-family="Liberation Sans, sans-serif" font-size="15.4" fill="#1a1e29" textLength="37" lengthAdjust="spacingAndGlyphs">37.04</text>
<path d="M1015 403.3H1071.6a2 2 0 0 1 2 2V421.6a2 2 0 0 1 -2 2H1015Z" fill="#7e57c2"/>
<text x="1028.4" y="418.65000000000003" font-family="Liberation Sans, sans-serif" font-size="15.4" fill="#fff" stroke="#fff" stroke-width="0.3" textLength="37" lengthAdjust="spacingAndGlyphs">26.12</text>
<path d="M1015 499.4H1087.4a2 2 0 0 1 2 2V517.4a2 2 0 0 1 -2 2H1015Z" fill="#ffcdd2"/>
<text x="1028.4" y="514.6" font-family="Liberation Sans, sans-serif" font-size="15.4" fill="#1a1e29" textLength="53" lengthAdjust="spacingAndGlyphs">−848.12</text>
<path d="M1015 520.3H1095a2 2 0 0 1 2 2V538.5a2 2 0 0 1 -2 2H1015Z" fill="#ff6d00"/>
<text x="1028.4" y="535.6" font-family="Liberation Sans, sans-serif" font-size="15.4" fill="#fff" stroke="#fff" stroke-width="0.3" textLength="61" lengthAdjust="spacingAndGlyphs">−1710.36</text>
<path d="M1015 541.1H1095a2 2 0 0 1 2 2V559.4a2 2 0 0 1 -2 2H1015Z" fill="#2962ff"/>
<text x="1028.4" y="556.45" font-family="Liberation Sans, sans-serif" font-size="15.4" fill="#fff" stroke="#fff" stroke-width="0.3" textLength="61" lengthAdjust="spacingAndGlyphs">−2558.48</text>
<text x="14.0" y="591.7" font-family="Liberation Sans, sans-serif" font-size="15.4" fill="#1a1e29" textLength="14.4" lengthAdjust="spacingAndGlyphs">15</text>
<text x="113.2" y="591.7" font-family="Liberation Sans, sans-serif" font-size="15.4" fill="#1a1e29" textLength="25" lengthAdjust="spacingAndGlyphs" font-weight="bold">Mar</text>
<text x="223.5" y="591.7" font-family="Liberation Sans, sans-serif" font-size="15.4" fill="#1a1e29" textLength="14.4" lengthAdjust="spacingAndGlyphs">15</text>
<text x="345.7" y="591.7" font-family="Liberation Sans, sans-serif" font-size="15.4" fill="#1a1e29" textLength="24" lengthAdjust="spacingAndGlyphs" font-weight="bold">Apr</text>
<text x="455.5" y="591.7" font-family="Liberation Sans, sans-serif" font-size="15.4" fill="#1a1e29" textLength="14.4" lengthAdjust="spacingAndGlyphs">15</text>
<text x="569.2" y="591.7" font-family="Liberation Sans, sans-serif" font-size="15.4" fill="#1a1e29" textLength="27" lengthAdjust="spacingAndGlyphs" font-weight="bold">May</text>
<text x="688.5" y="591.7" font-family="Liberation Sans, sans-serif" font-size="15.4" fill="#1a1e29" textLength="14.4" lengthAdjust="spacingAndGlyphs">16</text>
<text x="803.4" y="591.7" font-family="Liberation Sans, sans-serif" font-size="15.4" fill="#1a1e29" textLength="24.6" lengthAdjust="spacingAndGlyphs" font-weight="bold">Jun</text>
<text x="950.0" y="591.7" font-family="Liberation Sans, sans-serif" font-size="15.4" fill="#1a1e29" textLength="15.4" lengthAdjust="spacingAndGlyphs">20</text>
<path d="M13.1 619.9H22.8V631.7H17.8V624.2H13.1Z M32.3 619.9H37.3L32.6 631.7H27.1Z" fill="#131722"/><circle cx="26.9" cy="622.4" r="2.6" fill="#131722"/>
<text x="42.2" y="631.7" font-family="Liberation Sans, sans-serif" font-size="15.5" fill="#1e222d" textLength="87.2" lengthAdjust="spacingAndGlyphs">TradingView</text>
</g>
</svg></body></html>
